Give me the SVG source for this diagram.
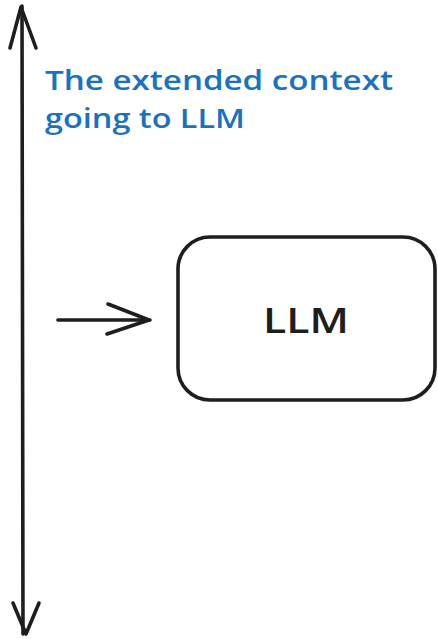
<svg xmlns="http://www.w3.org/2000/svg" width="438" height="639" viewBox="0 0 438 639">
  <style>
    .ink { fill: none; stroke: #1e1e1e; stroke-width: 3.6; stroke-linecap: round; stroke-linejoin: round; }
    .note { font-family: "Open Sans", "Liberation Sans", sans-serif; font-size: 27px; font-weight: 600; fill: #1971c2; }
    .label { font-family: "Open Sans", "Liberation Sans", sans-serif; font-size: 34px; font-weight: 600; fill: #1e1e1e; }
  </style>
  <rect width="438" height="639" fill="#ffffff"/>

  <g id="connectors">
    <!-- vertical double-headed context axis -->
    <path class="ink" d="M22 6 L23 634"/>
    <path class="ink" d="M10 48 L21 7 L36 48"/>
    <path class="ink" d="M13 603 L26 634 L39 603"/>
    <!-- arrow into the LLM box -->
    <path class="ink" d="M58 320 L150 320"/>
    <path class="ink" d="M108 304 L149 320 L107 334"/>
  </g>

  <g id="context-note">
    <text class="note" x="45" y="90" textLength="348" lengthAdjust="spacingAndGlyphs">The extended context</text>
    <text class="note" x="45" y="128" textLength="200" lengthAdjust="spacingAndGlyphs">going to LLM</text>
  </g>

  <g id="llm">
    <rect class="ink" x="178" y="237" width="257" height="163" rx="32" ry="32"/>
    <text class="label" x="306" y="333" text-anchor="middle" textLength="86" lengthAdjust="spacingAndGlyphs">LLM</text>
  </g>
</svg>
